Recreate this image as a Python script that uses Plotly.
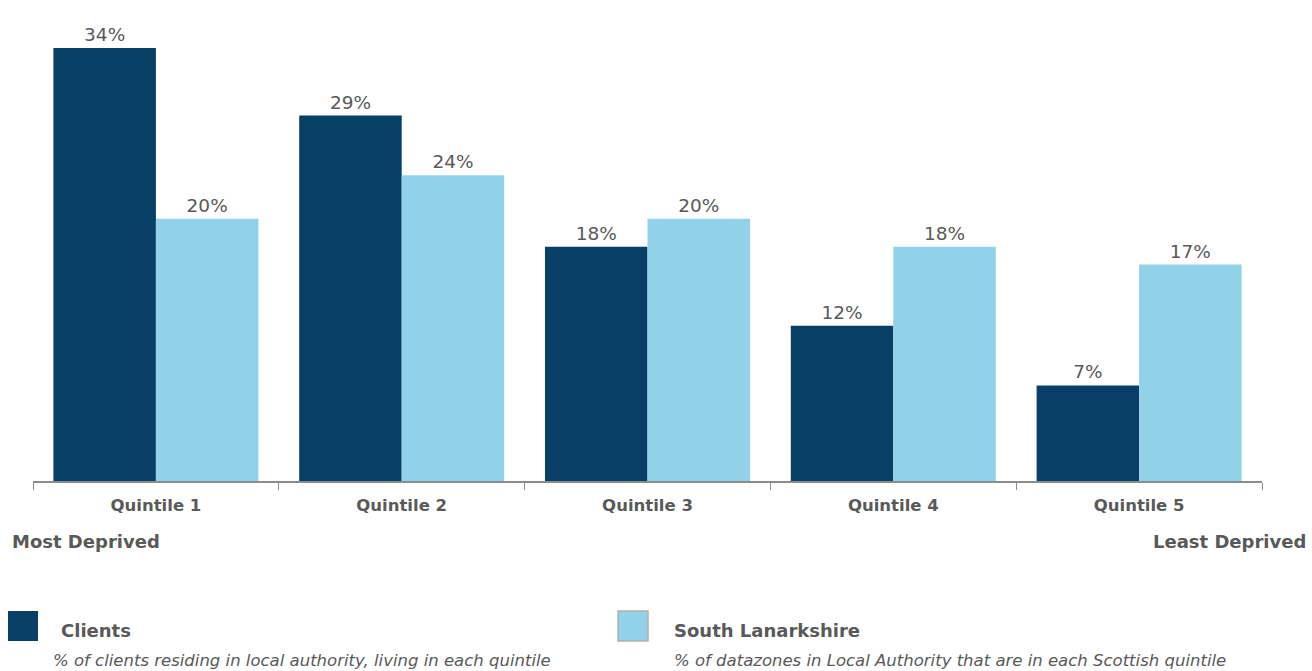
import plotly.graph_objects as go

categories = ["Quintile 1", "Quintile 2", "Quintile 3", "Quintile 4", "Quintile 5"]
clients = [34.0, 28.7, 18.4, 12.2, 7.5]
south_lanarkshire = [20.6, 24.0, 20.6, 18.4, 17.0]
clients_labels = ["34%", "29%", "18%", "12%", "7%"]
sl_labels = ["20%", "24%", "20%", "18%", "17%"]

DARK = "#073f66"
LIGHT = "#92d2e9"
TXT = "#595959"
FONT = "DejaVu Sans"

W, H = 1312, 671
L, R, T, B = 33, 50, 20, 190
PW, PH = W - L - R, H - T - B


def px(x):
    return (x - L) / PW


def py(y):
    return (H - B - y) / PH


fig = go.Figure()
fig.add_trace(go.Bar(x=categories, y=clients, name="Clients", marker_color=DARK,
                     marker_line_width=0, text=clients_labels, textposition="outside",
                     textfont=dict(color=TXT, size=18.5, family=FONT), cliponaxis=False))
fig.add_trace(go.Bar(x=categories, y=south_lanarkshire, name="South Lanarkshire",
                     marker_color=LIGHT, marker_line_width=0, text=sl_labels,
                     textposition="outside",
                     textfont=dict(color=TXT, size=18.5, family=FONT), cliponaxis=False))

fig.update_layout(
    width=W, height=H,
    margin=dict(l=L, r=R, t=T, b=B),
    paper_bgcolor="white", plot_bgcolor="white",
    barmode="group", bargap=0.166, bargroupgap=0,
    showlegend=False,
    font=dict(family=FONT, color=TXT),
)
fig.update_xaxes(
    type="category", showline=True, linecolor="#8c8c8c", linewidth=1.5,
    ticks="outside", tickson="boundaries", ticklen=7, tickcolor="#8c8c8c",
    ticklabelstandoff=8,
    tickfont=dict(family=FONT, size=16.5, color=TXT, weight="bold"),
    showgrid=False, zeroline=False,
)
fig.update_yaxes(range=[0, 36.2], visible=False, showgrid=False, zeroline=False)

shapes = [
    dict(type="rect", xref="paper", yref="paper", x0=px(8), x1=px(38), y0=py(641), y1=py(611),
         fillcolor=DARK, line=dict(width=0)),
    dict(type="rect", xref="paper", yref="paper", x0=px(618), x1=px(648), y0=py(641), y1=py(611),
         fillcolor=LIGHT, line=dict(width=1.5, color="#b0b0b0")),
]
annotations = [
    dict(text="<b>Most Deprived</b>", x=px(10), y=py(541), xanchor="left", yanchor="middle",
         font=dict(size=18, color=TXT, family=FONT)),
    dict(text="<b>Least Deprived</b>", x=px(1308), y=py(541), xanchor="right", yanchor="middle",
         font=dict(size=18, color=TXT, family=FONT)),
    dict(text="<b>Clients</b>", x=px(59), y=py(630), xanchor="left", yanchor="middle",
         font=dict(size=18, color=TXT, family=FONT)),
    dict(text="<i>% of clients residing in local authority, living in each quintile</i>",
         x=px(51), y=py(660), xanchor="left", yanchor="middle",
         font=dict(size=16.5, color=TXT, family=FONT)),
    dict(text="<b>South Lanarkshire</b>", x=px(672), y=py(630), xanchor="left", yanchor="middle",
         font=dict(size=18, color=TXT, family=FONT)),
    dict(text="<i>% of datazones in Local Authority that are in each Scottish quintile</i>",
         x=px(672), y=py(660), xanchor="left", yanchor="middle",
         font=dict(size=16.5, color=TXT, family=FONT)),
]
for a in annotations:
    a.update(xref="paper", yref="paper", showarrow=False)

fig.update_layout(shapes=shapes, annotations=annotations)
fig.write_html(
    "out.html",
    config={"displayModeBar": False},
    post_script="document.body.style.margin='0';document.body.style.overflow='hidden';",
)
